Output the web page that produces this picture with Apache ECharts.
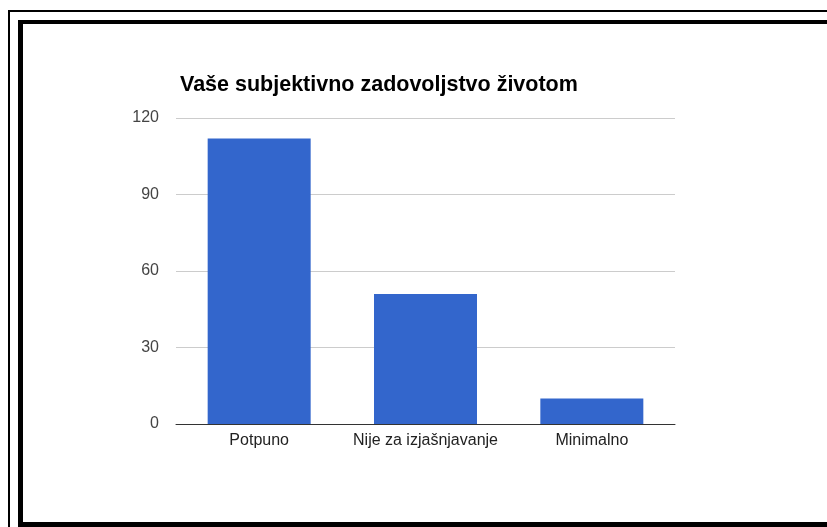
<!DOCTYPE html>
<html>
<head>
<meta charset="utf-8">
<script src="https://cdn.jsdelivr.net/npm/echarts@6/dist/echarts.min.js"></script>
<style>
  html, body { margin: 0; padding: 0; background: #fff; }
  #wrap { position: relative; width: 827px; height: 527px; overflow: hidden; }
  #chart { position: absolute; left: 0; top: 0; width: 827px; height: 527px; }
  .outer { position: absolute; left: 8px; top: 10px; width: 900px; height: 600px;
           border-left: 2px solid #000; border-top: 2px solid #000; }
  .inner { position: absolute; left: 18px; top: 20px; width: 900px; height: 498px;
           border-left: 5px solid #000; border-top: 4px solid #000; border-bottom: 5px solid #000; }
</style>
</head>
<body>
<div id="wrap">
  <div class="outer"></div>
  <div class="inner"></div>
  <div id="chart"></div>
</div>
<script>
const categories = ['Potpuno', 'Nije za izjašnjavanje', 'Minimalno'];
const values = [112, 51, 10];
const titleText = 'Vaše subjektivno zadovoljstvo životom';

const chart = echarts.init(document.getElementById('chart'));
const font = "Arial, 'Liberation Sans', sans-serif";

chart.setOption({
  animation: false,
  title: {
    text: titleText,
    left: 175,
    top: 69,
    textStyle: {fontFamily: font, fontSize: 21.5, fontWeight: 'bold', color: '#000'},
  },
  grid: {left: 176, right: 152, top: 118, bottom: 103},
  xAxis: {
    type: 'category',
    data: categories,
    axisLine: {lineStyle: {color: '#333', width: 1}},
    axisTick: {show: false},
    axisLabel: {color: '#222', fontFamily: font, fontSize: 16, margin: 9, interval: 0, hideOverlap: false},
  },
  yAxis: {
    type: 'value',
    min: 0,
    max: 120,
    interval: 30,
    axisLine: {show: false},
    axisTick: {show: false},
    splitLine: {lineStyle: {color: '#ccc', width: 1}},
    axisLabel: {color: '#444', fontFamily: font, fontSize: 16, margin: 17},
  },
  series: [{
    type: 'bar',
    data: values,
    barWidth: 103,
    itemStyle: {color: '#3366cc'},
  }],
});
</script>
</body>
</html>
